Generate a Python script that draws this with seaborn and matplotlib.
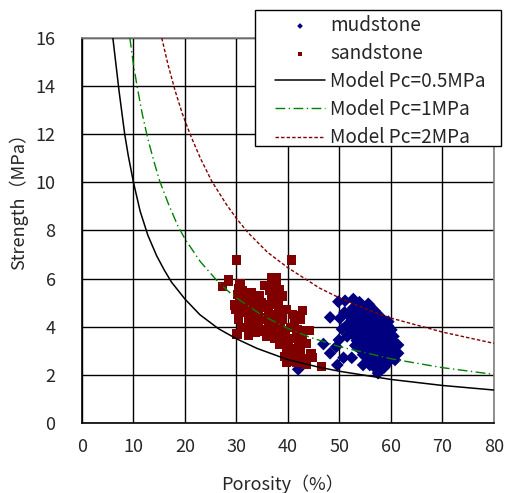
import numpy as np
import pandas as pd
import matplotlib
matplotlib.use("Agg")
import matplotlib.pyplot as plt
from matplotlib.patches import Rectangle
import seaborn as sns

# porosity (%) / strength (MPa)
mud_porosity = [42.0, 46.9, 48.2, 48.2, 49.6, 49.8, 51.1, 52.7, 50.1, 49.4, 50.8, 52.4, 54.6, 55.9,
                57.5, 61.4, 61.4, 60.8, 59.5, 56.9, 52.7, 51.5, 50.5, 49.9, 51.0, 53.9, 55.6,
                53.6, 54.9, 55.8,
                52.1, 53.4, 54.0, 55.3, 56.2, 57.1,
                51.7, 52.9, 53.9, 54.4, 55.6, 56.3, 57.6, 58.1,
                52.5, 53.1, 54.3, 55.0, 55.5, 56.7, 57.2, 58.4, 59.0,
                51.4, 52.8, 53.6, 54.6, 55.2, 56.0, 56.8, 57.9, 58.5, 59.4,
                52.2, 53.5, 54.1, 55.3, 55.8, 56.6, 57.4, 58.2, 59.2, 60.1,
                52.9, 53.2, 54.3, 54.7, 55.7, 56.3, 57.1, 57.8, 58.9, 59.5, 60.5,
                53.4, 54.0, 54.9, 55.5, 56.1, 57.2, 57.6, 58.5, 59.1, 60.3,
                53.1, 54.4, 55.2, 55.9, 56.5, 57.3, 58.3, 58.8, 59.9, 60.7,
                54.1, 54.7, 55.6, 56.2, 57.0, 57.9, 58.6, 59.7, 60.2,
                54.6, 55.3, 56.4, 56.9, 57.7, 58.4, 59.3, 60.0,
                55.7, 56.5, 57.3, 58.1, 59.2, 59.6,
                56.2, 57.5, 58.3, 59.0,
                57.1, 57.8, 58.7]
mud_strength = [2.23, 3.28, 4.39, 2.90, 2.41, 5.04, 5.08, 5.15, 4.35, 3.17, 2.71, 2.71, 2.41, 2.41,
                2.07, 2.90, 3.24, 2.62, 4.21, 4.65, 4.79, 3.60, 3.90, 3.45, 4.60, 5.02, 4.95,
                4.86, 4.80, 4.90,
                4.62, 4.70, 4.58, 4.74, 4.64, 4.55,
                4.48, 4.40, 4.52, 4.36, 4.49, 4.42, 4.46, 4.38,
                4.28, 4.18, 4.33, 4.21, 4.30, 4.24, 4.16, 4.27, 4.19,
                4.05, 4.11, 3.98, 4.08, 3.95, 4.10, 4.02, 4.07, 3.96, 4.04,
                3.86, 3.80, 3.90, 3.76, 3.88, 3.82, 3.91, 3.78, 3.84, 3.87,
                3.64, 3.55, 3.70, 3.58, 3.66, 3.61, 3.68, 3.57, 3.63, 3.69, 3.60,
                3.42, 3.47, 3.38, 3.49, 3.40, 3.45, 3.36, 3.48, 3.41, 3.44,
                3.22, 3.27, 3.18, 3.30, 3.20, 3.25, 3.16, 3.28, 3.21, 3.26,
                3.04, 2.98, 3.07, 2.96, 3.05, 2.99, 3.08, 3.01, 2.95,
                2.84, 2.78, 2.87, 2.80, 2.85, 2.76, 2.83, 2.79,
                2.64, 2.58, 2.67, 2.60, 2.63, 2.56,
                2.45, 2.38, 2.47, 2.40,
                2.26, 2.20, 2.31]

sand_porosity = [28.5, 30.8, 30.4, 31.1, 30.3, 31.4, 32.4, 32.0, 29.8, 30.8, 31.7, 33.0, 33.9, 34.9,
                 35.2, 36.8, 37.8, 36.8, 37.8, 36.8, 37.5, 38.4, 39.0, 36.8, 38.1, 39.7, 36.2, 34.3,
                 33.3, 32.4, 30.4, 33.9, 35.2, 36.5, 37.5, 38.4, 39.0, 40.9, 41.6, 42.9, 42.5, 41.3,
                 40.6, 41.9, 41.6, 43.1, 44.1, 31.1, 32.7, 32.4, 33.6, 34.9, 35.5, 36.2, 37.1, 36.8,
                 38.1, 38.4, 39.0, 39.7, 40.6, 40.0, 41.0, 41.6, 42.5, 43.5, 44.8, 42.9, 41.6, 39.7,
                 43.5, 46.5, 30.1, 32.4, 34.3, 38.1, 34.3, 33.3, 29.7, 29.9, 30.7, 30.7, 30.5,
                 30.0, 40.7, 28.4, 27.3, 30.0, 32.3, 39.9,
                 33.0, 34.5, 36.0, 37.0, 38.5, 35.8, 37.5, 39.5, 41.0, 42.0, 40.0, 38.8, 33.0,
                 31.8, 34.5, 36.5, 35.5, 32.5, 31.5, 34.0, 36.5, 43.5, 44.5, 42.8, 39.3]
sand_strength = [5.90, 5.77, 5.56, 5.49, 5.35, 5.31, 5.28, 5.14, 4.90, 4.87, 4.94, 5.01, 5.08, 5.01,
                 4.80, 6.04, 6.04, 5.77, 5.70, 5.28, 5.28, 5.56, 5.28, 4.94, 5.01, 4.73, 4.66, 4.59,
                 4.46, 4.39, 4.32, 4.25, 4.32, 4.32, 4.46, 4.46, 4.32, 4.52, 4.46, 4.69, 4.32, 4.18,
                 3.97, 3.90, 3.70, 3.83, 3.83, 3.97, 3.97, 3.63, 3.77, 3.90, 3.83, 4.04, 4.11, 3.70,
                 3.77, 3.28, 3.42, 3.15, 3.08, 2.94, 2.80, 2.73, 2.94, 2.66, 2.73, 2.52, 2.52, 2.52,
                 2.45, 2.34, 3.70, 4.18, 4.04, 4.73, 4.80, 4.73, 4.90, 4.70, 5.18, 5.80, 5.60,
                 6.77, 6.77, 5.94, 5.67, 3.73, 3.66, 2.55,
                 4.60, 4.40, 4.90, 4.50, 4.00, 3.60, 3.50, 3.60, 3.50, 3.20, 3.35, 3.85, 5.40,
                 5.00, 5.30, 5.50, 5.70, 4.80, 4.60, 3.80, 4.00, 3.30, 2.90, 3.55, 2.75]

# model curves
m05_porosity = [6.0, 6.6, 7.2, 8.3, 9.0, 10.0, 11.3, 12.8, 14.5, 16.0, 17.4, 20.0, 22.9, 26.5, 30.0, 34.0, 40.0, 46.0, 50.0, 60.0, 70.0, 80.0]
m05_strength = [16.0, 14.9, 13.8, 12.0, 11.1, 10.0, 8.8, 7.8, 6.95, 6.35, 5.85, 5.15, 4.5, 3.92, 3.5, 3.1, 2.63, 2.32, 2.15, 1.81, 1.56, 1.37]
m1_porosity = [9.3, 10.0, 10.7, 11.7, 12.8, 14.0, 15.1, 16.8, 18.6, 20.0, 23.0, 26.5, 28.7, 30.0, 35.0, 40.0, 44.3, 50.0, 60.0, 70.0, 80.0]
m1_strength = [16.0, 14.9, 14.0, 12.85, 11.8, 10.85, 10.05, 9.1, 8.2, 7.65, 6.7, 5.85, 5.42, 5.2, 4.47, 3.93, 3.56, 3.17, 2.67, 2.3, 2.02]
m2_porosity = [15.5, 16.7, 18.1, 19.5, 21.0, 23.0, 25.2, 28.0, 30.0, 32.3, 36.0, 40.0, 46.2, 50.0, 55.0, 60.0, 70.0, 80.0]
m2_strength = [16.0, 14.9, 13.8, 12.85, 12.0, 11.0, 10.05, 9.1, 8.5, 7.9, 7.1, 6.45, 5.6, 5.2, 4.75, 4.36, 3.78, 3.31]

mud = pd.DataFrame({"porosity": mud_porosity, "strength": mud_strength})
sand = pd.DataFrame({"porosity": sand_porosity, "strength": sand_strength})

sns.set_style("white")
plt.rcParams["font.family"] = ["Noto Sans CJK JP", "DejaVu Sans"]

W, H = 506, 493
fig = plt.figure(figsize=(W / 100, H / 100), dpi=100)
ax = fig.add_axes([0.162, 0.142, 0.814, 0.781])

sns.scatterplot(data=mud, x="porosity", y="strength", marker="D", s=42, color="#000080",
                edgecolor="none", linewidth=0, label="mudstone", ax=ax, zorder=3)
sns.scatterplot(data=sand, x="porosity", y="strength", marker="s", s=44, color="#800000",
                edgecolor="none", linewidth=0, label="sandstone", ax=ax, zorder=3)

sns.lineplot(x=m05_porosity, y=m05_strength, color="black", lw=1.1, sort=False,
             label="Model Pc=0.5MPa", ax=ax, zorder=4)
sns.lineplot(x=m1_porosity, y=m1_strength, color="#008000", lw=1.0, sort=False,
             label="Model Pc=1MPa", ax=ax, zorder=4)
sns.lineplot(x=m2_porosity, y=m2_strength, color="#800000", lw=1.0, sort=False,
             label="Model Pc=2MPa", ax=ax, zorder=4)
ax.lines[1].set_dashes([7, 2.5, 1, 2.5])
ax.lines[2].set_dashes([2.5, 1.5])

ax.set_xlim(0, 80)
ax.set_ylim(0, 16)
ax.set_xticks(range(0, 81, 10))
ax.set_yticks(range(0, 17, 2))
ax.grid(True, color="black", lw=1.0)
ax.set_axisbelow(True)
ax.tick_params(length=0, labelsize=13)
ax.tick_params(axis="x", pad=11)
ax.tick_params(axis="y", pad=19)
for side in ["left", "bottom"]:
    ax.spines[side].set_color("black")
    ax.spines[side].set_linewidth(1.2)
for side in ["top", "right"]:
    ax.spines[side].set_color("#808080")
    ax.spines[side].set_linewidth(1.2)

ax.set_xlabel("Porosity（%）", fontsize=13)
ax.set_ylabel("Strength（MPa）", fontsize=13)
ax.xaxis.set_label_coords(0.488, -0.158)
ax.xaxis.label.set_va("center")
ax.yaxis.set_label_coords(-0.154, 0.587)
ax.yaxis.label.set_va("center")

# legend box sits over the top-right corner of the plot, wider than its content
handles, labels = ax.get_legend_handles_labels()
ax.get_legend().remove()
fig.patches.append(Rectangle((255 / W, 1 - 146 / H), 246 / W, 136 / H, transform=fig.transFigure,
                             facecolor="white", edgecolor="black", lw=1.0, zorder=5))
leg = fig.legend(handles, labels, loc="upper left", bbox_to_anchor=(275 / W, 1 - 15 / H),
                 fontsize=13.7, frameon=False, borderaxespad=0, borderpad=0,
                 handlelength=2.63, labelspacing=0.37, markerscale=0.45, handletextpad=0.26)
leg.set_zorder(6)

fig.savefig("out.png", dpi=100)
